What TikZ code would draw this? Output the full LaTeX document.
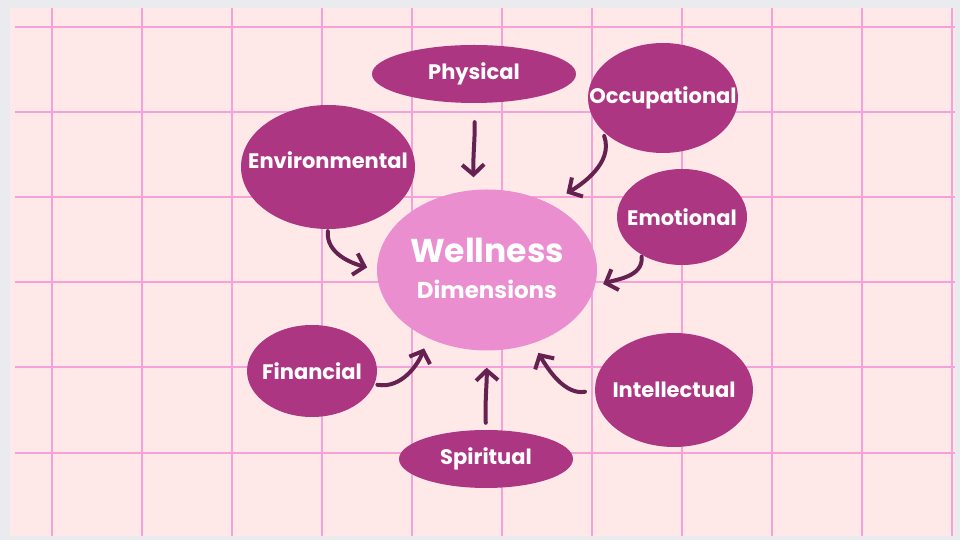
\documentclass[tikz,border=0pt]{standalone}
\usepackage{fontspec}
\setmainfont{Poppins}
\usetikzlibrary{shapes.geometric,arrows.meta}
\definecolor{bggray}{HTML}{E9EBEE}
\definecolor{panel}{HTML}{FFE9E8}
\definecolor{gridc}{HTML}{F5A2DA}
\definecolor{blobc}{HTML}{AD3682}
\definecolor{centc}{HTML}{EA8ED0}
\definecolor{arrc}{HTML}{652150}
\newcommand{\blobtext}[1]{\makebox[0pt]{#1}}
\begin{document}
\begin{tikzpicture}[x=1pt,y=1pt,
  blob/.style={ellipse, fill=blobc, inner sep=0pt, text=white,
    font=\bfseries\fontsize{21}{24}\selectfont},
  centre/.style={ellipse, fill=centc, inner sep=0pt, text=white, align=center,
    font=\bfseries\fontsize{23}{36}\selectfont},
  arr/.style={draw=arrc, line width=4pt, line cap=round,
    -{Straight Barb[length=10pt,width=22pt]}},
  gridline/.style={gridc, line width=1.8pt}]
\useasboundingbox (0,0) rectangle (960,540);
\fill[bggray] (0,0) rectangle (960,540);
\fill[panel] (10,4) rectangle (955,532);
\foreach \x in {52,142,...,952} \draw[gridline] (\x,4) -- (\x,532);
\foreach \y in {513,428,343,258,173,87} \draw[gridline] (15,\y) -- (955,\y);

\node[centre, minimum width=220pt, minimum height=161pt] (well) at (487,270) {};
\node[text=white, align=center, inner sep=0pt, font=\bfseries\fontsize{23}{36}\selectfont] (welltxt) at (487,272)
  {{\fontsize{33}{36}\selectfont Wellness}\\Dimensions};
\node[blob, minimum width=204pt, minimum height=58pt] (phys) at (474,466) {\blobtext{Physical}};
\node[blob, minimum width=150pt, minimum height=110pt] (occ) at (663,442) {\blobtext{Occupational}};
\node[blob, minimum width=174pt, minimum height=124pt, text depth=14pt] (env) at (328,373) {\blobtext{Environmental}};
\node[blob, minimum width=130pt, minimum height=96pt] (emo) at (682,323) {\blobtext{Emotional}};
\node[blob, minimum width=130pt, minimum height=92pt] (fin) at (312,169) {\blobtext{Financial}};
\node[blob, minimum width=174pt, minimum height=58pt] (spir) at (486,81) {\blobtext{Spiritual}};
\node[blob, minimum width=158pt, minimum height=114pt] (intel) at (674,150) {\blobtext{Intellectual}};

\draw[arr, shorten <=19pt, shorten >=12pt] (phys.south) to[out=-88,in=92] (phys.south |- well.north);
\draw[arr, shorten <=6pt, shorten >=20pt] (occ.208) to[out=-70,in=30] (well.47.5);
\draw[arr, shorten <=2pt, shorten >=10pt] (env.south) to[out=-95,in=165] (well.west);
\draw[arr, shorten <=2pt, shorten >=9pt] (emo.223.6) to[out=-85,in=20] (well.-9);
\draw[arr, shorten <=3pt, shorten >=11pt] (fin.-12) to[out=-10,in=250] (well.229.8);
\draw[arr, shorten <=7pt, shorten >=17pt] (spir.north) to[out=92,in=-88] (spir.north |- well.south);
\draw[arr, shorten <=10pt, shorten >=11pt] (intel.west) to[out=190,in=300] (well.-58);
\end{tikzpicture}
\end{document}
